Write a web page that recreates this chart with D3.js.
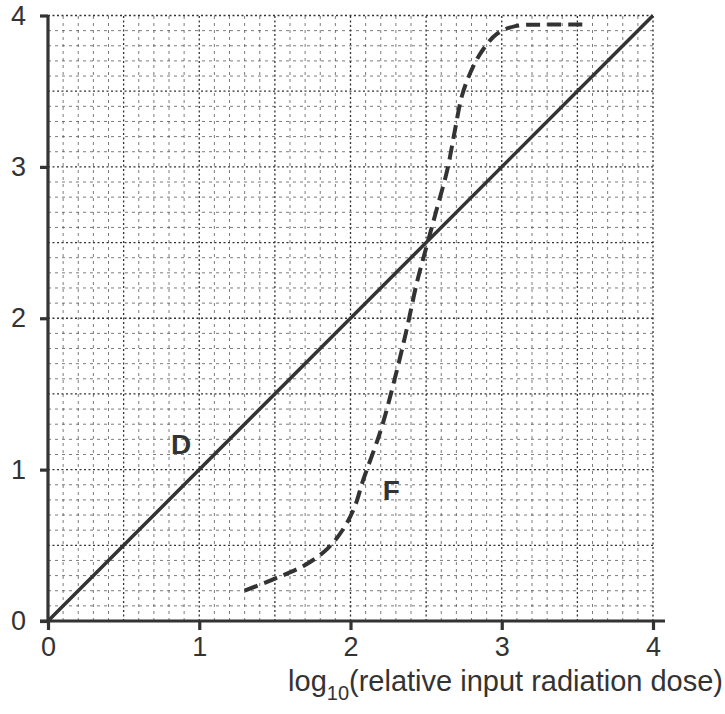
<!DOCTYPE html>
<html>
<head>
<meta charset="utf-8">
<script src="https://cdnjs.cloudflare.com/ajax/libs/d3/7.8.5/d3.min.js"></script>
<style>
  body { margin: 0; background: #fff; }
  text { font-family: "Liberation Sans", Arial, sans-serif; }
</style>
</head>
<body>
<div id="chart"></div>
<script>
// axis ticks
const xTicks = [0, 1, 2, 3, 4];
const yTicks = [0, 1, 2, 3, 4];

// line D: straight, slope 1
const lineD = [[0, 0], [4, 4]];

// curve F
const curveF = [
  [1.30, 0.20], [1.50, 0.28], [1.70, 0.37], [1.85, 0.48], [1.96, 0.62],
  [2.03, 0.76], [2.08, 0.92], [2.20, 1.26], [2.29, 1.59], [2.37, 1.92],
  [2.44, 2.24], [2.51, 2.50], [2.57, 2.72], [2.64, 2.98], [2.69, 3.24],
  [2.74, 3.48], [2.81, 3.66], [2.88, 3.78], [2.97, 3.88], [3.09, 3.93],
  [3.30, 3.94], [3.57, 3.94]
];

const labels = [
  {text: 'D', x: 0.88, y: 1.1},
  {text: 'F', x: 2.27, y: 0.8}
];

const W = 725, H = 714;
const margin = {top: 15.5, right: 72, bottom: 93, left: 48};

const svg = d3.select('#chart').append('svg')
    .attr('width', W)
    .attr('height', H);

const x = d3.scaleLinear().domain([0, 4]).range([margin.left, W - margin.right]);
const y = d3.scaleLinear().domain([0, 4]).range([H - margin.bottom, margin.top]);

const ink = '#333';

// grid - minor every 0.1, heavier every 0.5
let grid = svg.append('g');
let minor = d3.range(1, 41).map(d => d / 10);
minor.forEach(v => {
    let major = Math.abs(v * 2 - Math.round(v * 2)) < 1e-6;
    let st = major ? {c: '#333', w: 1.3, d: '2,2.5'} : {c: '#444', w: 0.7, d: '3,4'};
    grid.append('line')
        .attr('x1', x(v)).attr('x2', x(v))
        .attr('y1', y(0)).attr('y2', y(4))
        .attr('stroke', st.c).attr('stroke-width', st.w).attr('stroke-dasharray', st.d);
    grid.append('line')
        .attr('x1', x(0)).attr('x2', x(4))
        .attr('y1', y(v)).attr('y2', y(v))
        .attr('stroke', st.c).attr('stroke-width', st.w).attr('stroke-dasharray', st.d);
});

// axes
let xAxis = svg.append('g')
    .attr('transform', `translate(0,${y(0)})`)
    .call(d3.axisBottom(x).tickValues(xTicks).tickSize(9).tickPadding(7).tickFormat(d3.format('d')));
xAxis.select('.domain').remove();
xAxis.append('line')
    .attr('x1', x(0) - 8).attr('x2', x(4) + 12)
    .attr('stroke', ink).attr('stroke-width', 3.2);

let yAxis = svg.append('g')
    .attr('transform', `translate(${x(0)},0)`)
    .call(d3.axisLeft(y).tickValues(yTicks).tickSize(8).tickPadding(14).tickFormat(d3.format('d')));
yAxis.select('.domain').remove();
yAxis.append('line')
    .attr('y1', y(0)).attr('y2', y(4))
    .attr('stroke', ink).attr('stroke-width', 3.2);

[xAxis, yAxis].forEach(a => {
    a.selectAll('.tick line').attr('stroke', ink).attr('stroke-width', 3.2);
    a.selectAll('.tick text')
        .attr('fill', ink)
        .style('font-size', '27px')
        .style('font-family', '"Liberation Sans", Arial, sans-serif');
});

// lines
let line = d3.line().x(d => x(d[0])).y(d => y(d[1]));

svg.append('path')
    .datum(lineD)
    .attr('d', line)
    .attr('fill', 'none')
    .attr('stroke', ink)
    .attr('stroke-width', 3.5);

svg.append('path')
    .datum(curveF)
    .attr('d', line.curve(d3.curveCatmullRom))
    .attr('fill', 'none')
    .attr('stroke', ink)
    .attr('stroke-width', 4)
    .attr('stroke-dasharray', '14,7');

// curve labels
svg.selectAll('.lbl')
    .data(labels)
    .enter().append('text')
    .attr('x', d => x(d.x))
    .attr('y', d => y(d.y))
    .attr('text-anchor', 'middle')
    .attr('font-size', 28)
    .attr('font-weight', 'bold')
    .attr('fill', ink)
    .text(d => d.text);

// x axis title
let title = svg.append('text')
    .attr('x', W - 2)
    .attr('y', 691)
    .attr('text-anchor', 'end')
    .attr('font-size', 29)
    .attr('fill', ink);
title.append('tspan').text('log');
title.append('tspan').attr('font-size', 20).attr('dy', 9).text('10');
title.append('tspan').attr('dy', -9).text('(relative input radiation dose)');
</script>
</body>
</html>
